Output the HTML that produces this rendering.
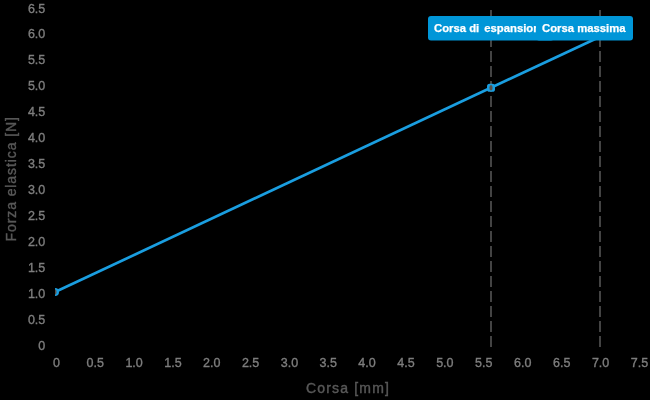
<!DOCTYPE html>
<html><head><meta charset="utf-8"><style>
html,body{margin:0;padding:0;background:#000;width:650px;height:400px;overflow:hidden}
svg{display:block;will-change:transform}
.tk{font-family:"Liberation Sans",sans-serif;font-size:12.5px;fill:#7e7e7e;stroke:#7e7e7e;stroke-width:0.35px}
.ti{font-family:"Liberation Sans",sans-serif;font-size:14px;fill:#585858;stroke:#585858;stroke-width:0.4px}
.lb{font-family:"Liberation Sans",sans-serif;font-size:11.3px;font-weight:bold;fill:#fff;stroke:#fff;stroke-width:0.25px}
</style></head><body>
<svg width="650" height="400" viewBox="0 0 650 400" xmlns="http://www.w3.org/2000/svg">
<rect width="650" height="400" fill="#000"/>
<g class="tk">
<text x="45.3" y="349.50" text-anchor="end">0</text><text x="45.3" y="323.58" text-anchor="end">0.5</text><text x="45.3" y="297.65" text-anchor="end">1.0</text><text x="45.3" y="271.73" text-anchor="end">1.5</text><text x="45.3" y="245.81" text-anchor="end">2.0</text><text x="45.3" y="219.89" text-anchor="end">2.5</text><text x="45.3" y="193.96" text-anchor="end">3.0</text><text x="45.3" y="168.04" text-anchor="end">3.5</text><text x="45.3" y="142.12" text-anchor="end">4.0</text><text x="45.3" y="116.19" text-anchor="end">4.5</text><text x="45.3" y="90.27" text-anchor="end">5.0</text><text x="45.3" y="64.35" text-anchor="end">5.5</text><text x="45.3" y="38.42" text-anchor="end">6.0</text><text x="45.3" y="12.50" text-anchor="end">6.5</text>
<text x="56.50" y="367.4" text-anchor="middle">0</text><text x="95.32" y="367.4" text-anchor="middle">0.5</text><text x="134.13" y="367.4" text-anchor="middle">1.0</text><text x="172.95" y="367.4" text-anchor="middle">1.5</text><text x="211.76" y="367.4" text-anchor="middle">2.0</text><text x="250.58" y="367.4" text-anchor="middle">2.5</text><text x="289.40" y="367.4" text-anchor="middle">3.0</text><text x="328.21" y="367.4" text-anchor="middle">3.5</text><text x="367.03" y="367.4" text-anchor="middle">4.0</text><text x="405.96" y="367.4" text-anchor="middle">4.5</text><text x="444.88" y="367.4" text-anchor="middle">5.0</text><text x="483.81" y="367.4" text-anchor="middle">5.5</text><text x="522.74" y="367.4" text-anchor="middle">6.0</text><text x="561.67" y="367.4" text-anchor="middle">6.5</text><text x="600.60" y="367.4" text-anchor="middle">7.0</text><text x="639.53" y="367.4" text-anchor="middle">7.5</text>
</g>
<text class="ti" x="306" y="392.5" letter-spacing="1.17">Corsa [mm]</text>
<text class="ti" transform="translate(16.2,241.5) rotate(-90)" letter-spacing="0.91">Forza elastica [N]</text>
<defs><clipPath id="pc"><rect x="55" y="0" width="595" height="400"/></clipPath></defs>
<line x1="491" y1="347" x2="491" y2="10" stroke="#434343" stroke-width="2" stroke-dasharray="11 4"/>
<line x1="600" y1="347" x2="600" y2="10" stroke="#434343" stroke-width="2" stroke-dasharray="11 4"/>
<g clip-path="url(#pc)">
<line x1="55.00" y1="292.04" x2="600.00" y2="36.69" stroke="#1a9ee0" stroke-width="2.7"/>
<circle cx="55.00" cy="292.04" r="4" fill="#1a9ee0"/>
<ellipse cx="55.00" cy="292.04" rx="1.6" ry="2.8" fill="#5a5048"/>
<rect x="487.00" y="83.76" width="8" height="8" rx="2.6" fill="#1a9ee0"/>
<ellipse cx="491.00" cy="87.76" rx="1.6" ry="2.8" fill="#5a5048"/>
</g>
<rect x="428" y="16" width="126" height="24.5" rx="3" fill="#0096d8"/>
<text class="lb" x="434" y="32">Corsa di <tspan x="484.3">espansione</tspan></text>
<rect x="536" y="16" width="97" height="24.5" rx="3" fill="#0096d8"/>
<text class="lb" x="542" y="32">Corsa massima</text>
</svg>
</body></html>
